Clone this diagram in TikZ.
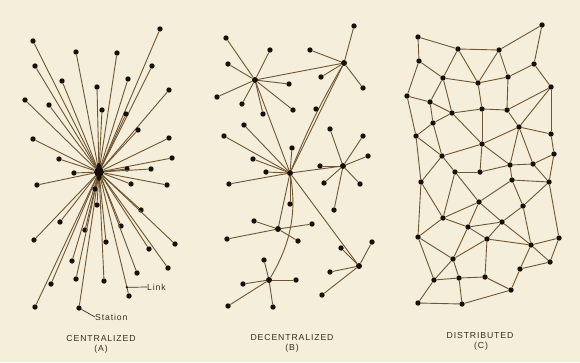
\documentclass[tikz,border=0pt]{standalone}
\usepackage{fontspec}
\newfontfamily\lettering[LetterSpace=10]{Liberation Sans}
\usepackage{tikz}
\usetikzlibrary{positioning,calc}

\definecolor{paper}{RGB}{244,238,218}
\definecolor{ink}{RGB}{24,16,10}
\definecolor{wire}{RGB}{112,86,50}
\definecolor{letter}{RGB}{62,46,28}

\tikzset{
  dot/.style={circle,fill=ink,inner sep=0pt,minimum size=5.4pt},
  hubdot/.style={circle,fill=ink,inner sep=0pt,minimum size=6pt},
  lnk/.style={wire,line width=0.9pt},
  lbl/.style={text=letter,font=\lettering\fontsize{8.7}{9}\selectfont,inner sep=0pt}
}

\begin{document}
\begin{tikzpicture}[x=1pt,y=-1pt]
  \fill[paper](0,0) rectangle (580,362);
  \useasboundingbox(0,0) rectangle (580,362);

  % (A) centralized
  \node[circle,fill=ink,inner sep=0pt,minimum size=10pt] (hub) at (99,172) {};
  \foreach \x/\y [count=\i] in {33/41,76/52,117/53,160/29,35/66,152/66,62/81,128/79,97/87,
      169/90,25/100,49/105,102/110,126/114,138/130,33/139,169/138,59/159,172/158,127/169,
      151/169,74/173,37/185,131/184,167/185,97/205,141/210,60/222,121/226,85/230,34/240,
      106/242,175/244,149/249,72/261,168/268,137/273,76/279,104/281,51/284,129/296,35/307,
      79/308,95/189}
    {\node[dot] (a\i) at (\x,\y) {};
     \draw[lnk] (hub) -- (a\i);}
  \fill[ink] (hub) ellipse (3pt and 9pt);
  \coordinate (lk) at ($(hub)!0.93!(a41)$);
  \fill[ink] (lk) circle (1.3pt);
  \node[lbl,anchor=west] (lnklbl) at (147,287) {Link};
  \draw[letter,line width=0.7pt] (lk) -- (lnklbl.west);
  \node[lbl,anchor=west] (stnlbl) at (95,317) {Station};
  \draw[letter,line width=0.7pt] (a43) -- (stnlbl.west);
  \node[lbl] (capa) at (101,338) {CENTRALIZED};
  \node[lbl] (taga) at (101,349) {(A)};

  % (B) decentralized
  \foreach \x/\y [count=\i] in {255/80,344/63,290/173,343/166,278/229,269/280,359/266}
    \node[hubdot] (bh\i) at (\x,\y) {};
  \draw[lnk] (bh1) -- (bh2);
  \draw[lnk] (bh1) -- (bh3);
  \draw[lnk] (bh2) -- (bh3);
  \draw[lnk] (bh2) to[bend right=4] (bh3);
  \draw[lnk] (bh3) -- (bh4);
  \draw[lnk] (bh3) -- (bh5);
  \draw[lnk] (bh3) -- (bh7);
  \draw[lnk] (bh3) .. controls +(6,35) and +(24,-40) .. (bh6);
  \foreach \h/\pts in {1/{226/38,270/50,228/64,289/84,217/97,242/104,263/114,293/110},
      2/{354/26,310/50,321/77,363/88},
      3/{244/125,224/136,292/148,253/159,266/172,229/184,290/204},
      4/{330/129,363/136,368/156,320/166,324/183,360/184,334/210},
      5/{254/221,312/224,227/239,298/241},
      6/{264/260,243/284,296/280,228/306,273/307},
      7/{372/242,341/248,330/272,322/295}}
    \foreach \x/\y [count=\i] in \pts
      {\node[dot] (b\h s\i) at (\x,\y) {};
       \draw[lnk] (bh\h) -- (b\h s\i);}
  \node[dot] (bfree) at (316,109) {};
  \node[lbl] (capb) at (292,337) {DECENTRALIZED};
  \node[lbl] (tagb) at (292,348) {(B)};

  % (C) distributed
  \foreach \x/\y [count=\i] in {418/37,458/49,499/50,542/25,419/61,534/64,443/78,478/83,
      508/77,407/96,430/102,551/87,452/113,482/109,507/110,433/123,519/127,416/136,551/134,
      482/144,442/156,554/154,510/165,533/164,455/172,480/172,421/182,512/180,549/182,
      479/202,523/206,443/218,502/222,468/227,418/237,487/239,559/238,531/245,453/259,
      550/262,520/269,434/280,459/278,485/277,511/290,418/303,462/304}
    \node[dot] (c\i) at (\x,\y) {};
  \foreach \p/\q in {1/2,1/5,2/3,3/4,4/6,2/7,2/8,3/8,3/9,5/7,5/10,7/8,8/9,9/6,6/12,7/11,
      7/13,8/14,9/15,10/11,11/13,13/14,14/15,15/12,10/18,11/16,13/16,16/18,16/21,13/20,
      14/20,15/17,12/17,17/20,17/19,12/19,19/22,17/23,17/24,22/24,23/24,20/23,26/23,20/26,
      21/20,18/21,18/27,21/25,21/27,25/26,22/29,23/28,24/29,28/29,25/30,28/30,28/31,29/31,
      29/37,27/32,25/32,30/32,30/34,30/33,31/33,31/38,32/34,32/35,34/33,34/36,33/36,33/38,
      36/38,37/38,37/40,38/40,38/41,40/41,36/39,34/39,36/44,35/39,35/42,39/42,39/43,42/43,
      43/44,44/45,41/45,43/47,42/46,46/47,47/45,27/35}
    \draw[lnk] (c\p) -- (c\q);
  \node[lbl] (capc) at (480,335) {DISTRIBUTED};
  \node[lbl] (tagc) at (481,346) {(C)};
\end{tikzpicture}
\end{document}
